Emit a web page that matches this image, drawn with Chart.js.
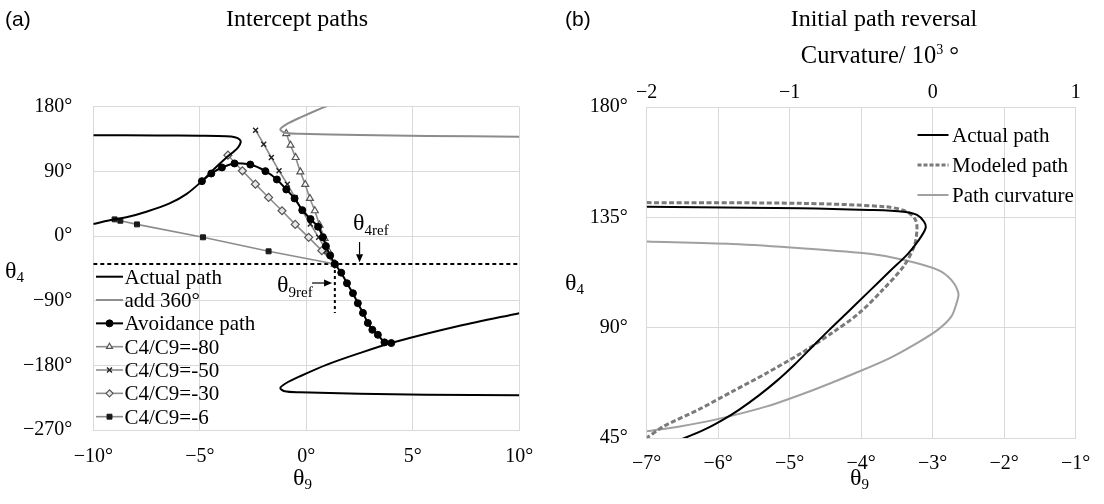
<!DOCTYPE html>
<html>
<head>
<meta charset="utf-8">
<script src="https://cdn.jsdelivr.net/npm/chart.js@4/dist/chart.umd.min.js"></script>
<style>
  html, body { margin:0; padding:0; background:#fff; }
  body { width:1104px; height:504px; position:relative; overflow:hidden; }
  canvas { position:absolute; top:0; }
  #ca { left:0; }
  #cb { left:552px; }
  .t { position:absolute; white-space:nowrap; color:#000; }
  .sb { font-size:15px; vertical-align:-4px; line-height:0; }
  .sb5 { font-size:15px; vertical-align:-5px; line-height:0; }
  .sp { font-size:14px; vertical-align:9px; line-height:0; }
</style>
</head>
<body>
<canvas id="ca" width="552" height="504"></canvas>
<canvas id="cb" width="552" height="504"></canvas>
<script>
// ---------------- DATA : panel (a) Intercept paths ----------------
const actualUpperTheta9 = [-10, -7, -5, -3.76, -3.35, -3.13, -3.08, -3.2, -3.44, -3.68, -4.23, -4.9, -5.63, -6.42, -7.51, -8.45, -9.0, -10];
const actualUpperTheta4 = [140.3, 140.0, 139.6, 139.0, 137.6, 134.5, 130.6, 123.5, 116.7, 111.0, 96.0, 76.4, 58.3, 45.4, 33.8, 26.0, 23.2, 16.7];
const actualLowerTheta9 = [10, 7.2, 4.07, 2.5, 0.94, -0.31, -0.94, -1.22, -1.02, -0.31, 2.5, 5.63, 10];
const actualLowerTheta4 = [-107.4, -125, -148.2, -163, -179.3, -195.4, -204.6, -211.5, -216.2, -217.6, -219.4, -220.8, -221.7];
const add360Theta9 = [2.5, 0.94, -0.31, -0.94, -1.22, -1.02, -0.31, 2.5, 5.63, 10];
const add360Theta4 = [197, 180.7, 164.6, 155.4, 148.5, 143.8, 142.4, 140.6, 139.2, 138.3];
const avoidTheta9 = [-4.9, -4.46, -3.96, -3.37, -2.63, -1.92, -1.38, -0.94, -0.55, -0.19, 0.2, 0.55, 0.78, 0.92, 1.12, 1.34, 1.64, 1.91, 2.19, 2.42, 2.66, 2.89, 3.1, 3.36, 3.67, 3.99];
const avoidTheta4 = [76.4, 87, 95.4, 101, 99.5, 90.3, 78.7, 64.8, 52.3, 36, 23.6, 13, -1.8, -14, -27, -39, -51, -65.7, -79.6, -93.5, -107, -121, -130.5, -137.5, -148, -149];
const c80Theta9 = [-0.94, -0.74, -0.50, -0.28, -0.05, 0.17, 0.40, 0.62, 0.86, 1.06, 1.34];
const c80Theta4 = [142.6, 126.4, 109.3, 89.3, 71.8, 52.3, 35.2, 15.3, -3.2, -21.8, -39];
const c50Theta9 = [-2.38, -2.0, -1.64, -1.28, -0.89, -0.53, -0.19, 0.19, 0.58, 0.94, 1.34];
const c50Theta4 = [147.2, 127.8, 109.3, 90.8, 72.2, 53.7, 35.2, 16.7, -1.8, -20.4, -39];
const c30Theta9 = [-3.68, -3.0, -2.39, -1.77, -1.14, -0.52, 0.11, 0.73, 1.34];
const c30Theta4 = [112.5, 90.8, 72.2, 53.7, 35.2, 16.2, -1.8, -20.4, -39];
const c6Theta9 = [-9.0, -8.73, -7.95, -4.85, -1.77, 1.34];
const c6Theta4 = [23.2, 21.3, 16.2, -1.8, -21.3, -39];
const theta4Ref = -39;
const theta9Ref = 1.34;
const theta9RefLineEnd = -107;
const refArrows = [
  { from: [2.5, -8.4], to: [2.5, -36.5] },
  { from: [0.27, -65.4], to: [1.21, -65.4] }
];
const xTicksA = [-10, -5, 0, 5, 10];
const yTicksA = [-270, -180, -90, 0, 90, 180];

// ---------------- DATA : panel (b) Initial path reversal ----------------
const bActualTheta9 = [-7, -4.84, -3.89, -3.41, -3.22, -3.12, -3.10, -3.2, -3.35, -3.6, -3.9, -4.2, -4.45, -4.68, -4.93, -5.18, -5.43, -5.71, -5.93, -6.18, -6.47, -6.63];
const bActualTheta4 = [139.3, 138.7, 138.0, 137.3, 136.0, 133.2, 130.5, 125.5, 120.0, 113.0, 104.5, 96.0, 89.0, 82.3, 75.0, 68.3, 62.4, 56.5, 52.5, 48.6, 45.0, 43.4];
const bModelTheta9 = [-7, -4.84, -3.65, -3.36, -3.24, -3.22, -3.26, -3.41, -3.70, -4.03, -4.41, -4.84, -5.32, -5.80, -6.28, -6.76, -7.0];
const bModelTheta4 = [141.0, 140.7, 139.3, 137.3, 133.9, 129.8, 123.1, 114.9, 105.4, 95.9, 87.8, 79.6, 71.5, 64.0, 56.5, 49.8, 45.0];
const bCurvature = [-2.0, -1.40, -0.92, -0.44, -0.20, 0.035, 0.13, 0.18, 0.167, 0.13, 0.035, -0.11, -0.30, -0.54, -0.83, -1.16, -1.52, -1.76, -2.0];
const bCurvTheta4 = [125.1, 124.1, 122.4, 120.1, 117.6, 113.6, 109.5, 104.0, 100.0, 94.5, 89.1, 83.7, 77.6, 71.5, 64.7, 57.9, 52.5, 49.8, 47.7];
const xTicksB = [-7, -6, -5, -4, -3, -2, -1];
const curvTicksB = [-2, -1, 0, 1];
const yTicksB = [45, 90, 135, 180];

// ---------------- helpers ----------------
const SERIF = '"Liberation Serif", "Times New Roman", serif';
const SANS = '"Liberation Sans", Arial, sans-serif';
const GRID = '#d9d9d9';
const pts = (xs, ys) => xs.map((x, i) => ({ x: x, y: ys[i] }));
const minus = v => (v < 0 ? '\u2212' : '') + Math.abs(v);
const degTick = v => minus(v) + '°';

function drawMarker(ctx, ds, x, y, r) {
  ctx.save();
  ctx.setLineDash([]);
  ctx.lineWidth = ds.pointBorderWidth || 1;
  ctx.strokeStyle = ds.pointBorderColor || ds.borderColor;
  ctx.fillStyle = ds.pointBackgroundColor || ds.borderColor;
  if (Chart.helpers && Chart.helpers.drawPoint) {
    Chart.helpers.drawPoint(ctx, { pointStyle: ds.pointStyle, rotation: 0, radius: r, borderWidth: ctx.lineWidth }, x, y);
  } else {
    ctx.beginPath(); ctx.arc(x, y, r, 0, Math.PI * 2); ctx.fill(); ctx.stroke();
  }
  ctx.restore();
}

const insideLegend = {
  id: 'insideLegend',
  afterDraw(chart, args, o) {
    if (!o || !o.show) return;
    const ctx = chart.ctx;
    ctx.save();
    ctx.font = o.fontSize + 'px ' + SERIF;
    ctx.textBaseline = 'alphabetic';
    ctx.textAlign = 'left';
    let row = 0;
    chart.data.datasets.forEach(ds => {
      if (ds.inLegend === false) return;
      const y = o.y + row * o.rowH;
      ctx.save();
      ctx.strokeStyle = ds.borderColor;
      ctx.lineWidth = ds.borderWidth;
      ctx.setLineDash(ds.legendDash || ds.borderDash || []);
      ctx.beginPath(); ctx.moveTo(o.x, y); ctx.lineTo(o.x + o.len, y); ctx.stroke();
      ctx.restore();
      if (ds.pointRadius > 0) drawMarker(ctx, ds, o.x + o.len / 2, y, o.markerR);
      ctx.fillStyle = '#000';
      ctx.fillText(ds.label, o.x + o.len + o.gap, y + o.baseOff);
      row++;
    });
    ctx.restore();
  }
};

const arrowsPlugin = {
  id: 'refArrowsPlugin',
  afterDatasetsDraw(chart, args, o) {
    if (!o || !o.arrows) return;
    const ctx = chart.ctx, xs = chart.scales.x, ys = chart.scales.y;
    ctx.save();
    ctx.strokeStyle = '#000'; ctx.fillStyle = '#000'; ctx.lineWidth = 1.2;
    o.arrows.forEach(a => {
      const x1 = xs.getPixelForValue(a.from[0]), y1 = ys.getPixelForValue(a.from[1]);
      const x2 = xs.getPixelForValue(a.to[0]), y2 = ys.getPixelForValue(a.to[1]);
      const ang = Math.atan2(y2 - y1, x2 - x1), L = 8, W = 3.5;
      const bx = x2 - L * Math.cos(ang), by = y2 - L * Math.sin(ang);
      ctx.beginPath(); ctx.moveTo(x1, y1); ctx.lineTo(bx, by); ctx.stroke();
      ctx.beginPath();
      ctx.moveTo(x2, y2);
      ctx.lineTo(bx + W * Math.sin(ang), by - W * Math.cos(ang));
      ctx.lineTo(bx - W * Math.sin(ang), by + W * Math.cos(ang));
      ctx.closePath(); ctx.fill();
    });
    ctx.restore();
  }
};

function tickFont() { return { family: SERIF, size: 20 }; }

// ---------------- panel (a) ----------------
const GRAY = '#8c8c8c';
new Chart(document.getElementById('ca'), {
  type: 'scatter',
  data: {
    datasets: [
      { label: 'Actual path', data: pts(actualUpperTheta9, actualUpperTheta4), showLine: true, borderColor: '#000', borderWidth: 2, pointRadius: 0, tension: 0.3 },
      { label: 'add 360°', data: pts(add360Theta9, add360Theta4), showLine: true, borderColor: GRAY, borderWidth: 2, pointRadius: 0, tension: 0.3 },
      { label: 'Avoidance path', data: pts(avoidTheta9, avoidTheta4), showLine: true, borderColor: '#000', borderWidth: 2, pointStyle: 'circle', pointRadius: 3.5, pointBackgroundColor: '#000', pointBorderColor: '#000', pointBorderWidth: 1, tension: 0.2 },
      { label: 'C4/C9=-80', data: pts(c80Theta9, c80Theta4), showLine: true, borderColor: GRAY, borderWidth: 1.6, pointStyle: 'triangle', pointRadius: 4, pointBackgroundColor: '#fff', pointBorderColor: '#555', pointBorderWidth: 1.2 },
      { label: 'C4/C9=-50', data: pts(c50Theta9, c50Theta4), showLine: true, borderColor: GRAY, borderWidth: 1.6, pointStyle: 'crossRot', pointRadius: 3.5, pointBackgroundColor: '#222', pointBorderColor: '#222', pointBorderWidth: 1.4 },
      { label: 'C4/C9=-30', data: pts(c30Theta9, c30Theta4), showLine: true, borderColor: GRAY, borderWidth: 1.6, pointStyle: 'rectRot', pointRadius: 4, pointBackgroundColor: '#e8e8e8', pointBorderColor: '#555', pointBorderWidth: 1.2 },
      { label: 'C4/C9=-6', data: pts(c6Theta9, c6Theta4), showLine: true, borderColor: GRAY, borderWidth: 1.6, pointStyle: 'rect', pointRadius: 3.5, pointBackgroundColor: '#1a1a1a', pointBorderColor: '#1a1a1a', pointBorderWidth: 1 },
      { label: 'Actual path (lower)', inLegend: false, data: pts(actualLowerTheta9, actualLowerTheta4), showLine: true, borderColor: '#000', borderWidth: 2, pointRadius: 0, tension: 0.3 },
      { label: 'θ4ref', inLegend: false, data: [{ x: xTicksA[0], y: theta4Ref }, { x: xTicksA[xTicksA.length - 1], y: theta4Ref }], showLine: true, borderColor: '#000', borderWidth: 2, borderDash: [4, 3], pointRadius: 0 },
      { label: 'θ9ref', inLegend: false, data: [{ x: theta9Ref, y: theta4Ref }, { x: theta9Ref, y: theta9RefLineEnd }], showLine: true, borderColor: '#000', borderWidth: 2, borderDash: [3, 3], pointRadius: 0 }
    ]
  },
  options: {
    responsive: false, animation: false, devicePixelRatio: 1,
    layout: { padding: { top: 106.7, right: 32.7, bottom: 0, left: 0 } },
    plugins: {
      legend: { display: false }, tooltip: { enabled: false },
      insideLegend: { show: true, x: 96, y: 276.7, rowH: 23.33, len: 27, gap: 1.5, markerR: 3.5, fontSize: 21, baseOff: 7 },
      refArrowsPlugin: { arrows: refArrows }
    },
    scales: {
      x: {
        type: 'linear', min: xTicksA[0], max: xTicksA[xTicksA.length - 1],
        afterBuildTicks: s => { s.ticks = xTicksA.map(v => ({ value: v })); },
        ticks: { callback: degTick, font: tickFont(), color: '#000', padding: 14.7, maxRotation: 0, autoSkip: false },
        grid: { color: GRID, drawTicks: false }, border: { color: GRID },
        afterFit: s => { s.height = 74; }
      },
      y: {
        type: 'linear', min: yTicksA[0], max: yTicksA[yTicksA.length - 1],
        afterBuildTicks: s => { s.ticks = yTicksA.map(v => ({ value: v })); },
        ticks: { callback: degTick, font: tickFont(), color: '#000', padding: 21, autoSkip: false },
        grid: { color: GRID, drawTicks: false }, border: { color: GRID },
        afterFit: s => { s.width = 93.3; }
      }
    }
  },
  plugins: [insideLegend, arrowsPlugin]
});

// ---------------- panel (b) ----------------
new Chart(document.getElementById('cb'), {
  type: 'scatter',
  data: {
    datasets: [
      { label: 'Actual path', data: pts(bActualTheta9, bActualTheta4), xAxisID: 'x', showLine: true, borderColor: '#000', borderWidth: 2, pointRadius: 0, tension: 0.3 },
      { label: 'Modeled path', data: pts(bModelTheta9, bModelTheta4), xAxisID: 'x', showLine: true, borderColor: '#7a7a7a', borderWidth: 3, borderDash: [5, 2.5], legendDash: [4, 2], pointRadius: 0, tension: 0.3 },
      { label: 'Path curvature', data: pts(bCurvature, bCurvTheta4), xAxisID: 'x2', showLine: true, borderColor: '#a0a0a0', borderWidth: 2, pointRadius: 0, tension: 0.3 }
    ]
  },
  options: {
    responsive: false, animation: false, devicePixelRatio: 1,
    layout: { padding: { top: 0, right: 22.3, bottom: 0, left: 0 } },
    plugins: {
      legend: { display: false }, tooltip: { enabled: false },
      insideLegend: { show: true, x: 365.5, y: 135, rowH: 30, len: 31, gap: 3.5, markerR: 0, fontSize: 21, baseOff: 7 }
    },
    scales: {
      x: {
        type: 'linear', position: 'bottom', min: xTicksB[0], max: xTicksB[xTicksB.length - 1],
        afterBuildTicks: s => { s.ticks = xTicksB.map(v => ({ value: v })); },
        ticks: { callback: degTick, font: tickFont(), color: '#000', padding: 13.7, maxRotation: 0, autoSkip: false },
        grid: { color: GRID, drawTicks: false }, border: { color: GRID },
        afterFit: s => { s.height = 66; }
      },
      x2: {
        type: 'linear', position: 'top', min: curvTicksB[0], max: curvTicksB[curvTicksB.length - 1],
        afterBuildTicks: s => { s.ticks = curvTicksB.map(v => ({ value: v })); },
        ticks: { callback: minus, font: tickFont(), color: '#000', padding: 2.5, maxRotation: 0, autoSkip: false },
        grid: { display: false, drawTicks: false }, border: { display: false },
        afterFit: s => { s.height = 107; }
      },
      y: {
        type: 'linear', min: yTicksB[0], max: yTicksB[yTicksB.length - 1],
        afterBuildTicks: s => { s.ticks = yTicksB.map(v => ({ value: v })); },
        ticks: { callback: degTick, font: tickFont(), color: '#000', padding: 19, autoSkip: false },
        grid: { color: GRID, drawTicks: false }, border: { color: GRID },
        afterFit: s => { s.width = 94.7; }
      }
    }
  },
  plugins: [insideLegend]
});

// ---------------- titles & axis titles (HTML text) ----------------
const textItems = [
  { html: '(a)', x: 5, base: 26, fs: 21, fam: SANS },
  { html: 'Intercept paths', x: 297, base: 26, fs: 24, align: 'center' },
  { html: '(b)', x: 565, base: 26, fs: 21, fam: SANS },
  { html: 'Initial path reversal', x: 884, base: 26, fs: 24, align: 'center' },
  { html: 'Curvature/&nbsp;10<span class="sp">3</span>&nbsp;°', x: 880, base: 64, fs: 24.5, align: 'center' },
  { html: 'θ<span class="sb">4</span>', x: 5, base: 278, fs: 24 },
  { html: 'θ<span class="sb">9</span>', x: 293, base: 485, fs: 24 },
  { html: 'θ<span class="sb">4</span>', x: 565, base: 290, fs: 24 },
  { html: 'θ<span class="sb">9</span>', x: 850, base: 485, fs: 24 },
  { html: 'θ<span class="sb5">4ref</span>', x: 353, base: 230, fs: 24 },
  { html: 'θ<span class="sb5">9ref</span>', x: 277, base: 292, fs: 24 }
];
textItems.forEach(t => {
  const fam = t.fam || SERIF;
  const asc = fam === SANS ? 0.8465 : 0.8375;
  const d = document.createElement('div');
  d.className = 't';
  d.innerHTML = t.html;
  d.style.fontFamily = fam;
  d.style.fontSize = t.fs + 'px';
  d.style.lineHeight = t.fs + 'px';
  d.style.top = (t.base - asc * t.fs) + 'px';
  d.style.left = t.x + 'px';
  if (t.align === 'center') d.style.transform = 'translateX(-50%)';
  document.body.appendChild(d);
});
</script>
</body>
</html>
